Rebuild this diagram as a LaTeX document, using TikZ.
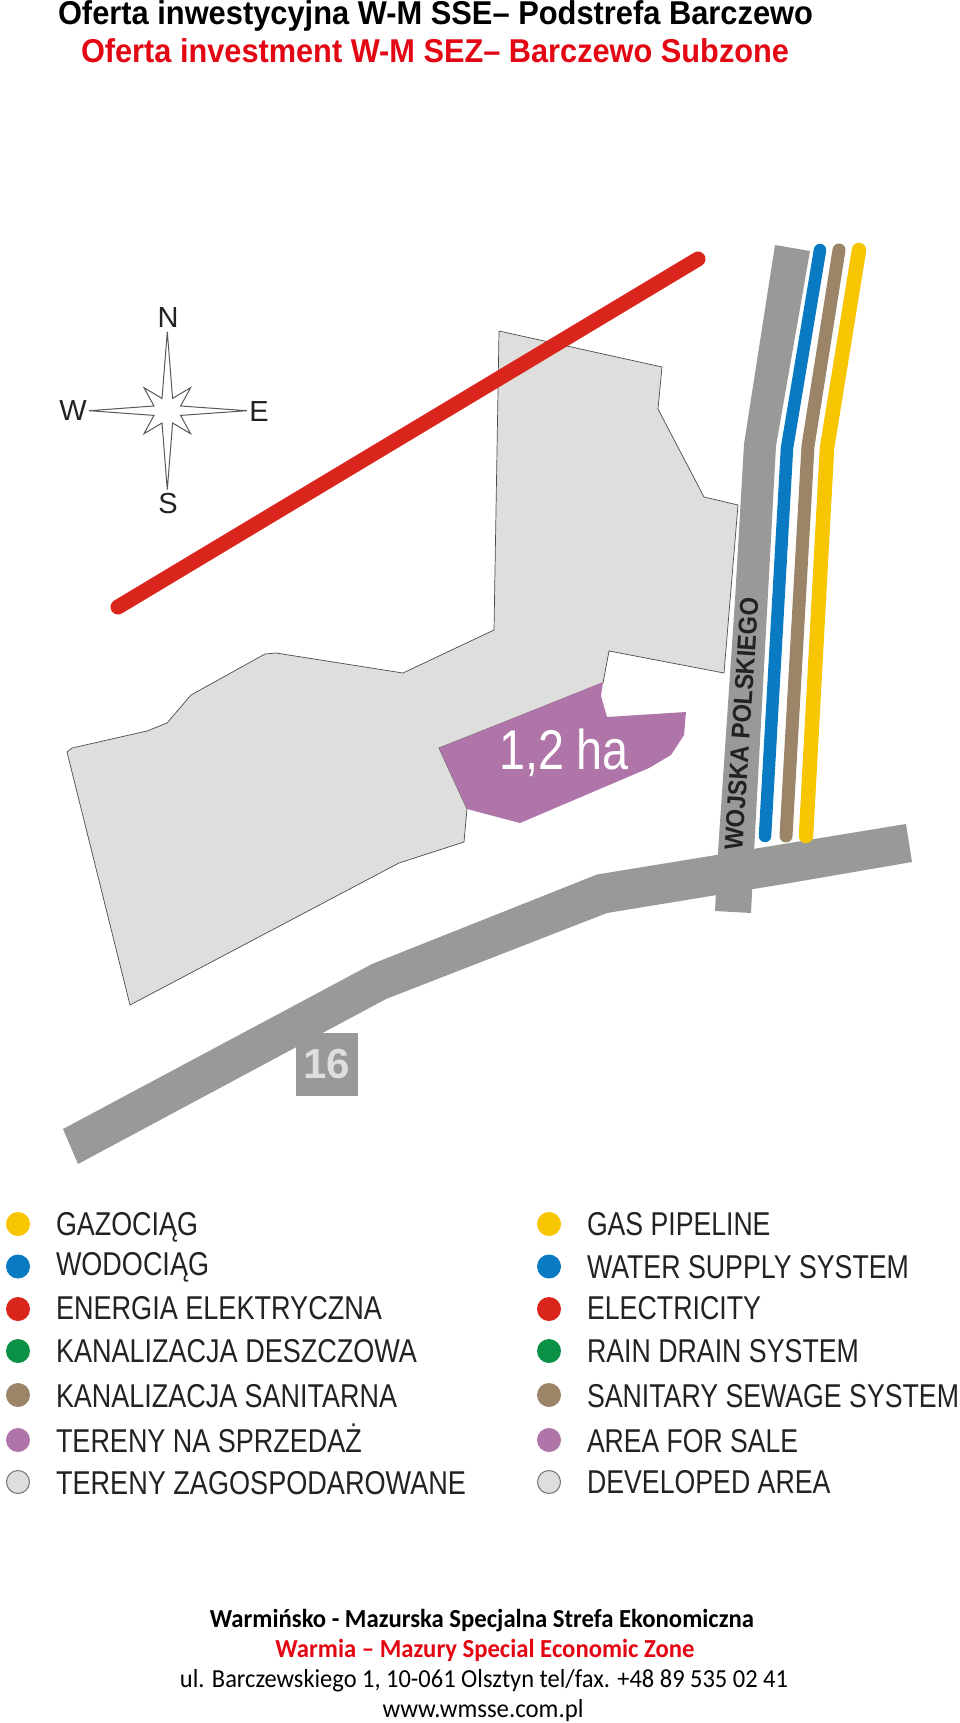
\documentclass[tikz,border=0pt]{standalone}
\usepackage{graphicx}
\usepackage{fontspec}
\setmainfont{Liberation Sans}
\newfontfamily\footfont{Carlito}
\definecolor{cyellow}{HTML}{F7C600}
\definecolor{cblue}{HTML}{0A7BC2}
\definecolor{cred}{HTML}{DA251D}
\definecolor{cgreen}{HTML}{0A9146}
\definecolor{cbrown}{HTML}{9C8468}
\definecolor{cpurple}{HTML}{B075A8}
\definecolor{carea}{HTML}{DEDEDD}
\definecolor{croad}{HTML}{999998}
\definecolor{ctext}{HTML}{222222}
\definecolor{ctitlered}{HTML}{E30613}
\newcommand{\fitw}[2]{\resizebox{#1pt}{\height}{#2}}
\tikzset{
  lbl/.style={inner sep=0pt,outer sep=0pt,anchor=base west},
  legtext/.style={lbl,text=ctext,font=\fontsize{33}{33}\selectfont},
  titletext/.style={lbl,font=\fontsize{33}{33}\selectfont\bfseries},
  foottext/.style={inner sep=0pt,outer sep=0pt,anchor=base,font=\footfont\fontsize{26}{26}\selectfont},
  dot/.style={circle,inner sep=0pt,outer sep=0pt,minimum size=24pt},
  pipe/.style={line cap=round,line join=round},
  compassletter/.style={inner sep=0pt,text=ctext,font=\fontsize{29}{29}\selectfont}
}
\begin{document}
\begin{tikzpicture}[x=1pt,y=-1pt]
\useasboundingbox (0,0) rectangle (960,1723);
\fill[white] (0,0) rectangle (960,1723);
% titles
\node[titletext] (t1) at (58,25) {\fitw{755}{Oferta inwestycyjna W-M SSE– Podstrefa Barczewo}};
\node[titletext,text=ctitlered] (t2) at (81,63) {\fitw{708}{Oferta investment W-M SEZ– Barczewo Subzone}};
% developed area
\draw[fill=carea,draw=black!70,line width=0.7pt]
  (499,331) -- (662,367) -- (658,409) -- (704,497) -- (738,505) -- (724,673) -- (609,651)
  -- (603,683) -- (439,748) -- (467,809) -- (464,842) -- (399,863) -- (130,1005)
  -- (67,752) -- (72,748) -- (147,731) -- (167,723) -- (191,695) -- (265,654) -- (276,653)
  -- (403,673) -- (494,630) -- cycle;
% area for sale
\fill[cpurple] (603,682) -- (601,696) -- (607,717) -- (686,712) -- (684,735) -- (671,755)
  -- (649,768) -- (520,823) -- (467,809) -- (439,748) -- cycle;
\node[lbl,text=white,font=\fontsize{56}{56}\selectfont] (ha) at (499,769) {\fitw{130}{1,2 ha}};
% power line
\draw[cred,line width=15pt,line cap=round] (698,259) -- (118,607);
% roads
\fill[croad] (775,245) -- (810,251) -- (776,446) -- (754,852) -- (751,913) -- (715,911)
  -- (718,852) -- (735,600) -- (744,444) -- cycle;
\fill[croad] (63,1129) -- (372,964) -- (597,874.5) -- (906,824) -- (912,862) -- (790,883)
  -- (607,913) -- (386,999) -- (78,1164) -- cycle;
% pipes
\draw[pipe,line width=12.5pt,cblue] (820,250) -- (787,448) -- (765,836);
\draw[pipe,line width=13pt,cbrown] (839,250) -- (808,446) -- (786,836);
\draw[pipe,line width=14.5pt,cyellow] (859,250) -- (827,448) -- (806,836);
% road labels
\node[inner sep=0pt,rotate=86.3,text=ctext,font=\fontsize{26}{26}\selectfont\bfseries] (wp) at (741.5,724) {\fitw{253}{WOJSKA POLSKIEGO}};
\node[fill=croad,minimum width=62pt,minimum height=63pt,inner sep=0pt,outer sep=0pt,text=carea,font=\fontsize{42}{42}\selectfont\bfseries] (r16) at (327,1064.5) {16};
% compass
\begin{scope}[shift={(167.3,410.7)}]
\draw[fill=white,draw=black!65,line width=1pt,line join=miter]
  (0,-79) -- (5.3,-12.3) -- (23.3,-23) -- (13.3,-4.7) -- (79.5,0) -- (13.3,4.7) -- (23.3,23)
  -- (5.3,12.3) -- (0,79) -- (-5.3,12.3) -- (-23.3,23) -- (-13.3,4.7) -- (-78.3,0)
  -- (-13.3,-4.7) -- (-23.3,-23) -- (-5.3,-12.3) -- cycle;
\end{scope}
\node[compassletter] (cn) at (168,318) {N};
\node[compassletter] (cs) at (168,504) {S};
\node[compassletter] (cw) at (73,411) {W};
\node[compassletter] (ce) at (259,412) {E};
% legend left
\node[dot,fill=cyellow] (l1) at (18,1224) {};
\node[dot,fill=cblue] (l2) at (18,1266.5) {};
\node[dot,fill=cred] (l3) at (18,1309) {};
\node[dot,fill=cgreen] (l4) at (18,1351) {};
\node[dot,fill=cbrown] (l5) at (18,1395) {};
\node[dot,fill=cpurple] (l6) at (18,1440) {};
\node[dot,fill=carea,draw=black!55,line width=1pt,minimum size=23pt] (l7) at (18,1482) {};
\node[legtext] (lt1) at (56,1235) {\fitw{142}{GAZOCIĄG}};
\node[legtext] (lt2) at (56,1275) {\fitw{153}{WODOCIĄG}};
\node[legtext] (lt3) at (56,1319.5) {\fitw{326}{ENERGIA ELEKTRYCZNA}};
\node[legtext] (lt4) at (56,1362.5) {\fitw{361}{KANALIZACJA DESZCZOWA}};
\node[legtext] (lt5) at (56,1407) {\fitw{341}{KANALIZACJA SANITARNA}};
\node[legtext] (lt6) at (56,1452) {\fitw{306}{TERENY NA SPRZEDAŻ}};
\node[legtext] (lt7) at (56,1494) {\fitw{410}{TERENY ZAGOSPODAROWANE}};
% legend right
\node[dot,fill=cyellow] (r1) at (549,1224) {};
\node[dot,fill=cblue] (r2) at (549,1266.5) {};
\node[dot,fill=cred] (r3) at (549,1309) {};
\node[dot,fill=cgreen] (r4) at (549,1351) {};
\node[dot,fill=cbrown] (r5) at (549,1395) {};
\node[dot,fill=cpurple] (r6) at (549,1440) {};
\node[dot,fill=carea,draw=black!55,line width=1pt,minimum size=23pt] (r7) at (549,1482) {};
\node[legtext] (rt1) at (587,1235) {\fitw{183.5}{GAS PIPELINE}};
\node[legtext] (rt2) at (587,1278) {\fitw{322}{WATER SUPPLY SYSTEM}};
\node[legtext] (rt3) at (587,1319.5) {\fitw{174}{ELECTRICITY}};
\node[legtext] (rt4) at (587,1362.5) {\fitw{272}{RAIN DRAIN SYSTEM}};
\node[legtext] (rt5) at (587,1407) {\fitw{372}{SANITARY SEWAGE SYSTEM}};
\node[legtext] (rt6) at (587,1452) {\fitw{211}{AREA FOR SALE}};
\node[legtext] (rt7) at (587,1493) {\fitw{243.5}{DEVELOPED AREA}};
% footer
\node[foottext] (f1) at (482,1627) {\fitw{544}{\bfseries Warmińsko - Mazurska Specjalna Strefa Ekonomiczna}};
\node[foottext,text=ctitlered] (f2) at (485,1657) {\fitw{419}{\bfseries Warmia – Mazury Special Economic Zone}};
\node[foottext] (f3) at (484,1687) {\fitw{608}{ul. Barczewskiego 1, 10-061 Olsztyn tel/fax. +48 89 535 02 41}};
\node[foottext] (f4) at (483,1717) {\fitw{201}{www.wmsse.com.pl}};
\end{tikzpicture}
\end{document}
